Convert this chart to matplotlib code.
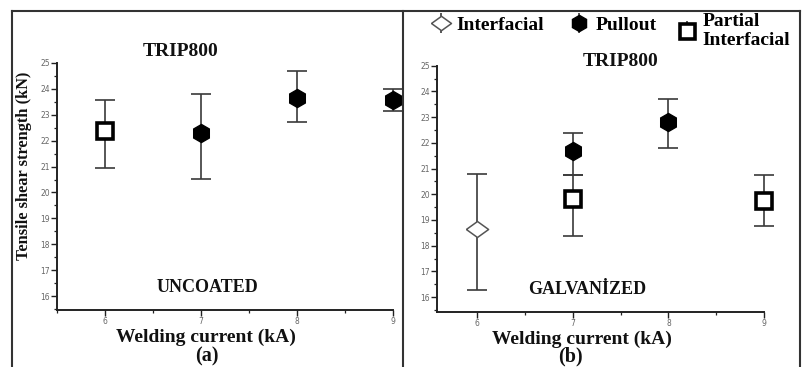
import matplotlib.pyplot as plt
from matplotlib.lines import Line2D
from matplotlib.ticker import MultipleLocator

# Tensile shear strength (kN) vs welding current (kA)
currents = [6, 7, 8, 9]

# (a) uncoated
unc_partial_x = [6]
unc_partial_y = [22.38]
unc_partial_lo = [20.94]
unc_partial_hi = [23.59]

unc_pullout_x = [7, 8, 9]
unc_pullout_y = [22.28, 23.66, 23.57]
unc_pullout_lo = [20.53, 22.72, 23.15]
unc_pullout_hi = [23.80, 24.68, 24.00]

# (b) galvanized
gal_inter_x = [6]
gal_inter_y = [18.64]
gal_inter_lo = [16.28]
gal_inter_hi = [20.79]

gal_pullout_x = [7, 8]
gal_pullout_y = [21.70, 22.80]
gal_pullout_lo = [20.74, 21.80]
gal_pullout_hi = [22.39, 23.71]

gal_partial_x = [7, 9]
gal_partial_y = [19.82, 19.74]
gal_partial_lo = [18.38, 18.77]
gal_partial_hi = [20.74, 20.74]

W, H = 802, 367
SERIF = "Liberation Serif"
diamond = [(-1, 0), (0, 0.72), (1, 0), (0, -0.72), (-1, 0)]


def px(x, y):
    return x / W, 1 - y / H


def err(y, lo, hi):
    return [[v - l for v, l in zip(y, lo)], [h - v for v, h in zip(y, hi)]]


eb = dict(ls="none", ecolor="#3a3a3a", elinewidth=1.2, capsize=7, clip_on=False)
style_partial = dict(marker="s", ms=12, mfc="white", mec="black", mew=2.6)
style_pullout = dict(marker="h", ms=13, mfc="black", mec="black", mew=1)
style_inter = dict(marker=diamond, ms=16, mfc="white", mec="#555555", mew=1.1)


def draw(ax, x, y, lo, hi, style):
    c = ax.errorbar(x, y, yerr=err(y, lo, hi), **eb, **style)
    for cap in c[1]:
        cap.set_markeredgewidth(1.2)
        cap.set_clip_on(False)
    for bar in c[2]:
        bar.set_clip_on(False)
    return c


fig = plt.figure(figsize=(W / 100, H / 100), dpi=100)

ax1 = fig.add_axes([57 / W, 1 - 310 / H, (393 - 57) / W, (310 - 63) / H])
ax2 = fig.add_axes([437 / W, 1 - 312 / H, (764 - 437) / W, (312 - 65.7) / H])

draw(ax1, unc_partial_x, unc_partial_y, unc_partial_lo, unc_partial_hi, style_partial)
draw(ax1, unc_pullout_x, unc_pullout_y, unc_pullout_lo, unc_pullout_hi, style_pullout)

draw(ax2, gal_inter_x, gal_inter_y, gal_inter_lo, gal_inter_hi, style_inter)
draw(ax2, gal_pullout_x, gal_pullout_y, gal_pullout_lo, gal_pullout_hi, style_pullout)
draw(ax2, gal_partial_x, gal_partial_y, gal_partial_lo, gal_partial_hi, style_partial)

# legend proxies: marker with a short vertical bar, no caps
proxy = dict(ls="none", ecolor="#3a3a3a", elinewidth=1.2, capsize=0)
p_inter = ax2.errorbar([], [], yerr=[], **proxy, **style_inter)
p_pull = ax2.errorbar([], [], yerr=[], **proxy, **style_pullout)
p_part = ax2.errorbar([], [], yerr=[], **proxy, **style_partial)

ax1.set_xlim(5.5, 9.0)
ax1.set_ylim(15.46, 25)
ax2.set_xlim(5.58, 9.0)
ax2.set_ylim(15.42, 25)

for ax in (ax1, ax2):
    ax.patch.set_alpha(0)
    ax.spines["top"].set_visible(False)
    ax.spines["right"].set_visible(False)
    for s in ("left", "bottom"):
        ax.spines[s].set_color("#222222")
        ax.spines[s].set_linewidth(1.4)
    ax.set_xticks(currents)
    ax.set_yticks(range(16, 26))
    ax.xaxis.set_minor_locator(MultipleLocator(0.5))
    ax.yaxis.set_minor_locator(MultipleLocator(0.5))
    ax.tick_params(which="major", length=4, width=1, color="#222222",
                   labelsize=5.5, labelcolor="#666666", pad=1)
    ax.tick_params(which="minor", length=2.5, width=0.9, color="#222222")

bold = dict(family=SERIF, fontweight="bold", color="#111111", ha="center", va="center")

fig.text(*px(181, 52), "TRIP800", fontsize=14, **bold)
fig.text(*px(207, 287), "UNCOATED", fontsize=13, **bold)
fig.text(*px(206, 337), "Welding current (kA)", fontsize=14, **bold)
fig.text(*px(207, 356), "(a)", fontsize=14.5, **bold)
fig.text(*px(24, 166), "Tensile shear strength (kN)", fontsize=11.8, rotation=90, **bold)

fig.text(*px(621, 61), "TRIP800", fontsize=14, **bold)
fig.text(*px(587, 290), "GALVANİZED", fontsize=13, **bold)
fig.text(*px(582, 339), "Welding current (kA)", fontsize=14, **bold)
fig.text(*px(570, 356), "(b)", fontsize=14.5, **bold)

leg_prop = dict(family=SERIF, weight="bold", size=14)
leg_kw = dict(loc="center left", frameon=False, handlelength=1.0, handletextpad=0.33,
              borderaxespad=0, borderpad=0, markerscale=0.9, prop=leg_prop)
leg1 = fig.legend([p_inter, p_pull], ["Interfacial", "Pullout"], ncol=2,
                  columnspacing=1.3, bbox_to_anchor=px(431, 25), **leg_kw)
leg2 = fig.legend([p_part], ["Partial\nInterfacial"], labelspacing=0,
                  bbox_to_anchor=px(677, 31), **leg_kw)
for t in leg2.get_texts():
    t.set_linespacing(1.2)

# panel frames
fc = "#333333"
fig.add_artist(Line2D([12 / W, 800 / W], [1 - 11 / H] * 2, color=fc, lw=1.5))
for xp in (12, 403, 800):
    fig.add_artist(Line2D([xp / W] * 2, [0, 1 - 11 / H], color=fc, lw=1.5))

fig.savefig("out.png", dpi=100)
